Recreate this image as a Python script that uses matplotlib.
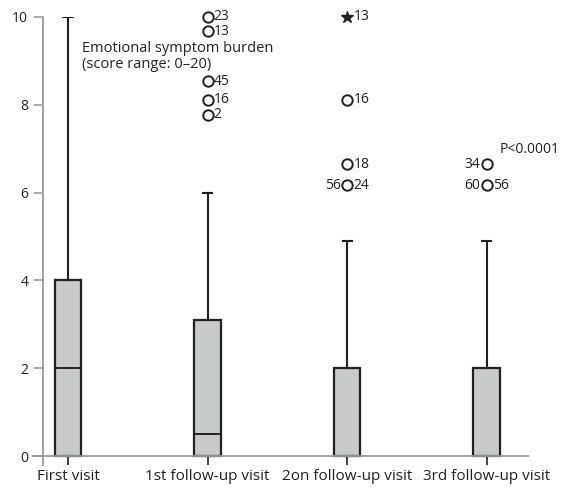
import matplotlib
matplotlib.use("Agg")
import matplotlib.pyplot as plt

plt.rcParams['font.family'] = ['Open Sans', 'DejaVu Sans']

# Данi
visits = ["First visit", "1st follow-up visit", "2on follow-up visit", "3rd follow-up visit"]
q1 = [0, 0, 0, 0]
medians = [2, 0.5, 0, 0]
q3 = [4, 3.1, 2, 2]
whisk_lo = [0, 0, 0, 0]
whisk_hi = [10, 6, 4.9, 4.9]

# Викиди: (номер візиту, значення, підпис праворуч, підпис ліворуч, маркер)
out_visit = [1, 1, 1, 1, 1, 2, 2, 2, 2, 3, 3]
out_value = [10, 9.68, 8.54, 8.11, 7.77, 10, 8.11, 6.65, 6.17, 6.65, 6.17]
out_right = ["23", "13", "45", "16", "2", "13", "16", "18", "24", "", "56"]
out_left = ["", "", "", "", "", "", "", "", "56", "34", "60"]
out_star = [False, False, False, False, False, True, False, False, False, False, False]

txt = "#231f20"
axis_gray = "#9a9a9a"

fig = plt.figure(figsize=(5.66, 4.91), dpi=100)
ax = fig.add_axes([0.0583, 0.0534, 0.8746, 0.912])

stats = []
for i in range(len(visits)):
    stats.append(dict(med=medians[i], q1=q1[i], q3=q3[i],
                      whislo=whisk_lo[i], whishi=whisk_hi[i], fliers=[]))

ax.bxp(stats, positions=range(len(visits)), widths=0.19, patch_artist=True,
       showfliers=False,
       boxprops=dict(facecolor="#c8c9cb", edgecolor=txt, linewidth=1.6),
       medianprops=dict(color=txt, linewidth=1.4),
       whiskerprops=dict(color=txt, linewidth=1.5),
       capprops=dict(color=txt, linewidth=1.5),
       capwidths=0.065)

for v, y, r, l, s in zip(out_visit, out_value, out_right, out_left, out_star):
    if s:
        ax.plot(v, y, marker='*', color=txt, markersize=9, clip_on=False, zorder=5)
    else:
        ax.plot(v, y, marker='o', markerfacecolor='white', markeredgecolor=txt,
                markersize=7.5, markeredgewidth=1.4, clip_on=False, zorder=5)
    if r:
        ax.annotate(r, (v, y), xytext=(4.5, 0), textcoords='offset points',
                    ha='left', va='center', fontsize=10, color=txt)
    if l:
        ax.annotate(l, (v, y), xytext=(-4.5, 0), textcoords='offset points',
                    ha='right', va='center', fontsize=10, color=txt)

ax.text(0.10, 9.45, "Emotional symptom burden\n(score range: 0\u201320)",
        ha='left', va='top', fontsize=10.5, color=txt, linespacing=1.05)
ax.text(3.09, 6.99, "P<0.0001", ha='left', va='center', fontsize=10, color=txt)

ax.set_xlim(-0.251, 3.297)
ax.set_ylim(-0.2, 10)
ax.set_yticks([0, 2, 4, 6, 8, 10])
ax.set_xticks(range(len(visits)))
ax.set_xticklabels(visits)

ax.spines['top'].set_visible(False)
ax.spines['right'].set_visible(False)
ax.spines['left'].set_position(('data', -0.181))
ax.spines['bottom'].set_position(('data', 0))
for sp in ('left', 'bottom'):
    ax.spines[sp].set_color(axis_gray)
    ax.spines[sp].set_linewidth(1.3)

ax.tick_params(axis='y', direction='out', length=6.5, width=1.2, color=axis_gray,
               labelsize=10, labelcolor=txt, pad=4)
ax.tick_params(axis='x', direction='out', length=6.5, width=1.2, color=txt,
               labelsize=11, labelcolor=txt, pad=3)

fig.savefig("out.png", dpi=100)
